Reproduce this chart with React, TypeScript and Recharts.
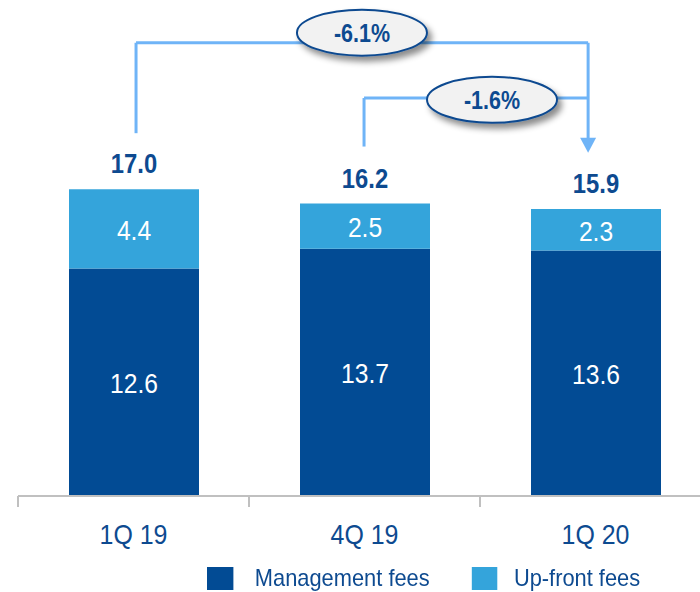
import React from 'react';
import { BarChart, Bar, XAxis, YAxis, LabelList, Legend, ReferenceLine, ReferenceDot } from 'recharts';

const categories = ['1Q 19', '4Q 19', '1Q 20'];
const managementFees = [12.6, 13.7, 13.6];
const upfrontFees = [4.4, 2.5, 2.3];
const totals = [17.0, 16.2, 15.9];
const changeLabels = ['-6.1%', '-1.6%'];
const slots = [0.5, 1.5, 2.5]; // centre of each category on the 0..3 position axis

const data = categories.map((name, i) => ({
  name,
  slot: slots[i],
  management: managementFees[i],
  upfront: upfrontFees[i],
  total: totals[i],
}));

// annotation positions, in data units (x on the hidden 0..3 axis, y on the value axis)
const bracketX = [0.511, 1.498];
const bracketBottom = [20.1, 19.36];
const bracketLevel = [25.11, 22.05];
const arrowX = 2.468;
const arrowHeadTop = 19.83;
const arrowTip = 19.01;
const bubbleX = [1.489, 2.052];
const bubbleY = [25.67, 21.95];

const DARK = '#024b94';
const LIGHT = '#34a4db';
const TEXT = '#0d4a90';
const LINE = '#6fb4f7';
const AXIS = '#c0c0c0';
const FONT = '"Liberation Sans", Arial, sans-serif';

const fmt = (v: any) => Number(v).toFixed(1);

// condensed text: the reference uses a narrow face
const NarrowText = ({ x, y, sx, children, ...rest }: any) => (
  <text transform={`translate(${x},${y}) scale(${sx},1)`} x={0} y={0} textAnchor="middle" fontFamily={FONT} {...rest}>
    {children}
  </text>
);

const CategoryTick = (props: any) => {
  const { x, y, payload } = props;
  const half = payload && payload.offset != null ? payload.offset : 0;
  return (
    <g>
      <line x1={x - half} x2={x - half} y1={y} y2={y + 11} stroke={AXIS} strokeWidth={2} />
      <NarrowText x={x} y={y + 48} sx={0.89} fill={TEXT} fontSize={28}>
        {payload.value}
      </NarrowText>
    </g>
  );
};

const InsideLabel = (props: any) => {
  const { x, y, width, height, value } = props;
  return (
    <NarrowText x={x + width / 2} y={y + height / 2 + 11} sx={0.88} fill="#fff" fontSize={28}>
      {fmt(value)}
    </NarrowText>
  );
};

const TotalLabel = (props: any) => {
  const { x, y, width, value } = props;
  return (
    <NarrowText x={x + width / 2} y={y - 16} sx={0.85} fill={TEXT} fontSize={28} fontWeight="bold">
      {fmt(value)}
    </NarrowText>
  );
};

const Bubble = (props: any) => {
  const { cx, cy, text, id } = props;
  return (
    <g>
      <defs>
        <filter id={id} x="-20%" y="-40%" width="150%" height="200%">
          <feDropShadow dx="4" dy="5" stdDeviation="3" floodColor="#000" floodOpacity="0.45" />
        </filter>
      </defs>
      <ellipse cx={cx} cy={cy} rx={65} ry={23} fill="#f2f2f2" stroke={TEXT} strokeWidth={2} filter={`url(#${id})`} />
      <NarrowText x={cx} y={cy + 9} sx={0.86} fill={TEXT} fontSize={25} fontWeight="bold">
        {text}
      </NarrowText>
    </g>
  );
};

const ArrowHead = (props: any) => {
  const { cx, cy } = props;
  return <polygon points={`${cx - 8},${cy - 15} ${cx + 8},${cy - 15} ${cx},${cy}`} fill={LINE} />;
};

const LEGEND_SX = 0.91;
const renderLegend = (props: any) => {
  const { payload } = props;
  return (
    <div
      style={{
        display: 'flex',
        alignItems: 'center',
        fontFamily: FONT,
        transform: `scaleX(${LEGEND_SX})`,
        transformOrigin: 'left center',
        whiteSpace: 'nowrap',
      }}
    >
      {(payload || []).map((entry: any, i: number) => (
        <div key={i} style={{ display: 'flex', alignItems: 'center', marginRight: 46 }}>
          <span
            style={{
              width: 26 / LEGEND_SX,
              height: 23,
              background: entry.color,
              display: 'inline-block',
              marginRight: i === 0 ? 24 : 18,
            }}
          />
          <span style={{ color: TEXT, fontSize: 24 }}>{entry.value}</span>
        </div>
      ))}
    </div>
  );
};

export default function App() {
  return (
    <div style={{ position: 'absolute', left: 0, top: 0, width: 700, height: 592, overflow: 'hidden', background: '#fff' }}>
      <BarChart width={720} height={592} data={data} margin={{ top: 135, right: 9, left: 18, bottom: 0 }}>
        <XAxis
          dataKey="name"
          height={96}
          axisLine={{ stroke: AXIS, strokeWidth: 2 }}
          tickLine={false}
          tickSize={0}
          tickMargin={0}
          tick={<CategoryTick />}
          interval={0}
        />
        <XAxis
          xAxisId="pos"
          dataKey="slot"
          type="number"
          domain={[0, 3]}
          ticks={[0, 1, 2, 3]}
          allowDataOverflow
          hide
        />
        <YAxis hide domain={[0, 20]} allowDataOverflow />
        <Legend
          verticalAlign="middle"
          layout="horizontal"
          wrapperStyle={{ left: 207, top: 564, width: 'auto', height: 'auto' }}
          content={renderLegend}
        />
        <Bar dataKey="management" name="Management fees" stackId="a" fill={DARK} barSize={130} isAnimationActive={false}>
          <LabelList dataKey="management" content={<InsideLabel />} />
        </Bar>
        <Bar dataKey="upfront" name="Up-front fees" stackId="a" fill={LIGHT} barSize={130} isAnimationActive={false}>
          <LabelList dataKey="upfront" content={<InsideLabel />} />
          <LabelList dataKey="total" content={<TotalLabel />} />
        </Bar>

        {bracketX.map((bx, i) => (
          <ReferenceLine
            key={`v${i}`}
            xAxisId="pos"
            ifOverflow="visible"
            segment={[{ x: bx, y: bracketBottom[i] }, { x: bx, y: bracketLevel[i] }]}
            stroke={LINE}
            strokeWidth={3}
          />
        ))}
        {bracketX.map((bx, i) => (
          <ReferenceLine
            key={`h${i}`}
            xAxisId="pos"
            ifOverflow="visible"
            segment={[{ x: bx, y: bracketLevel[i] }, { x: arrowX, y: bracketLevel[i] }]}
            stroke={LINE}
            strokeWidth={3}
          />
        ))}
        <ReferenceLine
          xAxisId="pos"
          ifOverflow="visible"
          segment={[{ x: arrowX, y: bracketLevel[0] }, { x: arrowX, y: arrowHeadTop }]}
          stroke={LINE}
          strokeWidth={3}
        />
        <ReferenceDot xAxisId="pos" x={arrowX} y={arrowTip} ifOverflow="visible" shape={(p: any) => <ArrowHead {...p} />} />
        {changeLabels.map((t, i) => (
          <ReferenceDot
            key={`b${i}`}
            xAxisId="pos"
            x={bubbleX[i]}
            y={bubbleY[i]}
            ifOverflow="visible"
            shape={(p: any) => <Bubble {...p} text={t} id={`shadow${i}`} />}
          />
        ))}
      </BarChart>
    </div>
  );
}
